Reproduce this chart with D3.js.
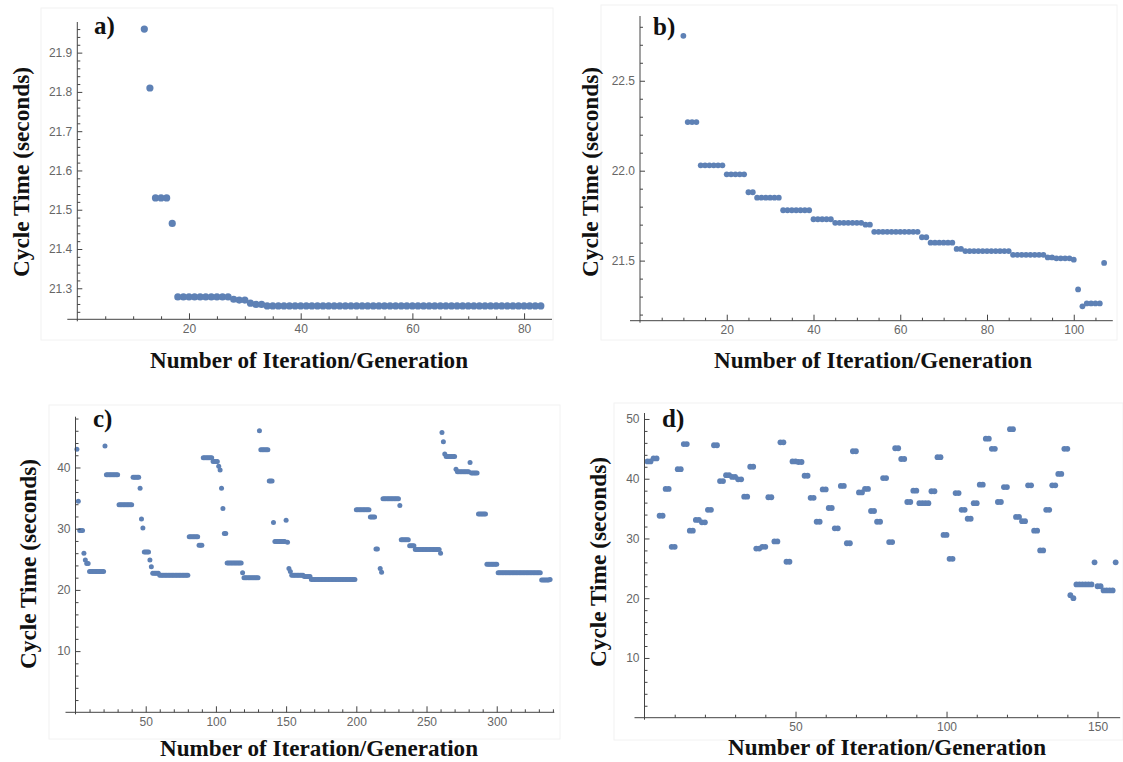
<!DOCTYPE html>
<html>
<head>
<meta charset="utf-8">
<script src="https://cdn.jsdelivr.net/npm/d3@7"></script>
<style>
  body { margin: 0; background: #fff; }
  .tick text { font-family: "Liberation Sans", Arial, sans-serif; font-size: 12px; fill: #666; }
  .axis-title { font-family: "Liberation Serif", "Times New Roman", serif; font-weight: bold; font-size: 23px; fill: #111; }
  .x-title { font-size: 24px; }
  .panel-tag { font-family: "Liberation Serif", "Times New Roman", serif; font-weight: bold; font-size: 25px; fill: #111; }
</style>
</head>
<body>
<div id="chart"></div>
<script>
// Each run is [first iteration, last iteration, cycle time in seconds]
const runsA = [
  [12, 12, 21.96], [13, 13, 21.81], [14, 16, 21.53], [17, 17, 21.465],
  [18, 27, 21.278], [28, 28, 21.272], [29, 30, 21.27], [31, 31, 21.262],
  [32, 33, 21.259], [34, 83, 21.255]
];
const runsB = [
  [10, 10, 22.75], [11, 13, 22.27], [14, 19, 22.03], [20, 24, 21.98],
  [25, 26, 21.88], [27, 32, 21.85], [33, 39, 21.78], [40, 44, 21.73],
  [45, 51, 21.71], [52, 53, 21.70], [54, 64, 21.66], [65, 66, 21.63],
  [67, 72, 21.60], [73, 74, 21.565], [75, 85, 21.553], [86, 93, 21.532],
  [94, 95, 21.518], [96, 99, 21.513], [100, 100, 21.505], [101, 101, 21.34],
  [102, 102, 21.246], [103, 106, 21.262], [107, 107, 21.487]
];
const runsC = [
  [1, 1, 43.0], [2, 2, 34.5], [3, 5, 29.7], [6, 6, 26.0], [7, 7, 24.9],
  [8, 9, 24.3], [10, 20, 23.0], [21, 21, 43.5], [22, 30, 38.8], [31, 40, 33.9],
  [41, 45, 38.4], [46, 46, 36.6], [47, 47, 31.6], [48, 48, 30.1], [49, 52, 26.2],
  [53, 53, 24.9], [54, 54, 23.8], [55, 59, 22.7], [60, 80, 22.4], [81, 87, 28.7],
  [88, 90, 27.3], [91, 97, 41.6], [98, 101, 41.0], [102, 102, 40.2], [103, 103, 39.6],
  [104, 104, 36.6], [105, 105, 33.3], [106, 107, 29.2], [108, 118, 24.4], [119, 119, 22.8],
  [120, 130, 22.0], [131, 131, 46.0], [132, 137, 42.9], [138, 140, 37.8], [141, 141, 31.0],
  [142, 149, 27.9], [150, 150, 31.4], [151, 151, 27.8], [152, 152, 23.5], [153, 153, 23.0],
  [154, 162, 22.4], [163, 167, 22.2], [168, 199, 21.7], [200, 209, 33.1], [210, 213, 31.9],
  [214, 215, 26.7], [217, 217, 23.5], [218, 218, 22.9], [219, 230, 34.9], [231, 231, 33.8],
  [232, 237, 28.2], [238, 241, 27.2], [242, 259, 26.6], [260, 260, 26.0], [261, 261, 45.7],
  [262, 262, 44.2], [263, 263, 42.2], [264, 270, 41.8], [271, 271, 39.7], [272, 280, 39.3],
  [281, 281, 40.8], [282, 286, 39.1], [287, 292, 32.4], [293, 300, 24.2], [301, 331, 22.8],
  [332, 337, 21.6], [338, 338, 21.7]
];
const runsD = [
  [1, 2, 42.9], [3, 4, 43.4], [5, 6, 33.8], [7, 8, 38.3], [9, 10, 28.6],
  [11, 12, 41.6], [13, 14, 45.8], [15, 16, 31.3], [17, 18, 33.1], [19, 20, 32.7],
  [21, 22, 34.8], [23, 24, 45.6], [25, 26, 39.6], [27, 28, 40.6], [29, 30, 40.3],
  [31, 32, 39.9], [33, 34, 37.0], [35, 36, 42.0], [37, 38, 28.3], [39, 40, 28.6],
  [41, 42, 36.9], [43, 44, 29.5], [45, 46, 46.1], [47, 48, 26.1], [49, 50, 42.9],
  [51, 52, 42.8], [53, 54, 40.5], [55, 56, 36.8], [57, 58, 32.8], [59, 60, 38.2],
  [61, 62, 35.1], [63, 64, 31.7], [65, 66, 38.8], [67, 68, 29.2], [69, 70, 44.6],
  [71, 72, 37.7], [73, 74, 38.3], [75, 76, 34.6], [77, 78, 32.8], [79, 80, 40.1],
  [81, 82, 29.4], [83, 84, 45.1], [85, 86, 43.3], [87, 88, 36.1], [89, 90, 38.0],
  [91, 94, 35.9], [95, 96, 37.9], [97, 98, 43.6], [99, 100, 30.6], [101, 102, 26.6],
  [103, 104, 37.6], [105, 106, 34.8], [107, 108, 33.3], [109, 110, 35.9], [111, 112, 39.0],
  [113, 114, 46.7], [115, 116, 45.0], [117, 118, 36.1], [119, 120, 38.6], [121, 122, 48.3],
  [123, 124, 33.6], [125, 126, 32.9], [127, 128, 38.9], [129, 130, 31.3], [131, 132, 28.0],
  [133, 134, 34.8], [135, 136, 38.9], [137, 138, 40.8], [139, 140, 45.0], [141, 141, 20.5],
  [142, 142, 20.0], [143, 148, 22.3], [149, 149, 26.0], [150, 151, 22.0], [152, 155, 21.3],
  [156, 156, 26.0]
];

// tick values
const xTicksA = [20, 40, 60, 80];
const yTicksA = [21.3, 21.4, 21.5, 21.6, 21.7, 21.8, 21.9];
const xTicksB = [20, 40, 60, 80, 100];
const yTicksB = [21.5, 22.0, 22.5];
const xTicksC = [50, 100, 150, 200, 250, 300];
const yTicksC = [10, 20, 30, 40];
const xTicksD = [50, 100, 150];
const yTicksD = [10, 20, 30, 40, 50];

const tags = ["a)", "b)", "c)", "d)"];
const xTitle = "Number of Iteration/Generation";
const yTitle = "Cycle Time (seconds)";

const color = "#5e81b5";

const svg = d3.select("#chart").append("svg")
    .attr("width", 1123)
    .attr("height", 762);

// layout for each panel
const panels = [
  { runs: runsA, tag: tags[0], xTicks: xTicksA, yTicks: yTicksA, xMinor: 5, yMinor: 0.02, yFmt: ".1f",
    frame: [41, 8, 512, 332], xDom: [0, 85], xRng: [77.3, 552], yDom: [21.221, 21.978], yRng: [319.3, 22],
    r: 3.6, tagPos: [94, 34], yTitlePos: [29, 172], xTitlePos: [309, 368] },
  { runs: runsB, tag: tags[1], xTicks: xTicksB, yTicks: yTicksB, xMinor: 5, yMinor: 0.1, yFmt: ".1f",
    frame: [601, 5, 516, 335], xDom: [0, 109], xRng: [640, 1112.8], yDom: [21.166, 22.86], yRng: [320.7, 16],
    r: 2.9, tagPos: [653, 35], yTitlePos: [598, 172], xTitlePos: [873, 368] },
  { runs: runsC, tag: tags[2], xTicks: xTicksC, yTicks: yTicksC, xMinor: 10, yMinor: 2, yFmt: "d",
    frame: [49, 405, 511, 334], xDom: [0, 341], xRng: [75.5, 554.3], yDom: [0, 48.3], yRng: [712.3, 416.7],
    r: 2.5, tagPos: [93, 427], yTitlePos: [36, 564], xTitlePos: [319, 756] },
  { runs: runsD, tag: tags[3], xTicks: xTicksD, yTicks: yTicksD, xMinor: 10, yMinor: 2, yFmt: "d",
    frame: [614, 403, 509, 337], xDom: [0, 157.5], xRng: [644.5, 1120.2], yDom: [0, 51], yRng: [717.7, 413],
    r: 2.9, tagPos: [662, 427], yTitlePos: [606, 562], xTitlePos: [887, 755] }
];

panels.forEach(p => {
  const x = d3.scaleLinear().domain(p.xDom).range(p.xRng);
  const y = d3.scaleLinear().domain(p.yDom).range(p.yRng);
  const g = svg.append("g");

  g.append("rect")
      .attr("x", p.frame[0]).attr("y", p.frame[1])
      .attr("width", p.frame[2]).attr("height", p.frame[3])
      .attr("fill", "none").attr("stroke", "#f2f2f2");

  // expand runs into points
  const pts = [];
  p.runs.forEach(([a, b, v]) => {
    for (let i = a; i <= b; i++) pts.push({ x: i, y: v });
  });

  g.selectAll("circle").data(pts).join("circle")
      .attr("cx", d => x(d.x))
      .attr("cy", d => y(d.y))
      .attr("r", p.r)
      .attr("fill", color);

  const x0 = p.xRng[0], y0 = p.yRng[0];
  const minorX = d3.range(p.xMinor, p.xDom[1], p.xMinor).filter(v => !p.xTicks.some(t => Math.abs(t - v) < 1e-6));
  const minorY = d3.range(Math.ceil(p.yDom[0] / p.yMinor) * p.yMinor, p.yDom[1], p.yMinor)
      .filter(v => v > p.yDom[0] + 1e-6 && !p.yTicks.some(t => Math.abs(t - v) < 1e-6));

  // x axis
  const gx = g.append("g").attr("transform", `translate(0,${y0})`);
  gx.call(d3.axisBottom(x).tickValues(p.xTicks).tickSize(-6).tickPadding(5));
  gx.append("g").call(d3.axisBottom(x).tickValues(minorX).tickSize(-3).tickFormat(""));
  gx.selectAll(".domain").remove();
  gx.selectAll("line").attr("stroke", "#444");
  gx.append("line").attr("x1", x0 - 10).attr("x2", p.xRng[1]).attr("stroke", "#444");

  // y axis
  const gy = g.append("g").attr("transform", `translate(${x0},0)`);
  gy.call(d3.axisLeft(y).tickValues(p.yTicks).tickSize(-5).tickPadding(5).tickFormat(d3.format(p.yFmt)));
  gy.append("g").call(d3.axisLeft(y).tickValues(minorY).tickSize(-3).tickFormat(""));
  gy.selectAll(".domain").remove();
  gy.selectAll("line").attr("stroke", "#444");
  gy.append("line").attr("y1", y0 + 2).attr("y2", p.yRng[1]).attr("stroke", "#444");

  g.append("text").attr("class", "panel-tag")
      .attr("x", p.tagPos[0]).attr("y", p.tagPos[1]).text(p.tag);

  g.append("text").attr("class", "axis-title")
      .attr("transform", `translate(${p.yTitlePos[0]},${p.yTitlePos[1]}) rotate(-90)`)
      .attr("text-anchor", "middle")
      .attr("textLength", 210).attr("lengthAdjust", "spacingAndGlyphs")
      .text(yTitle);

  g.append("text").attr("class", "axis-title x-title")
      .attr("x", p.xTitlePos[0]).attr("y", p.xTitlePos[1])
      .attr("text-anchor", "middle")
      .attr("textLength", 318).attr("lengthAdjust", "spacingAndGlyphs")
      .text(xTitle);
});
</script>
</body>
</html>
